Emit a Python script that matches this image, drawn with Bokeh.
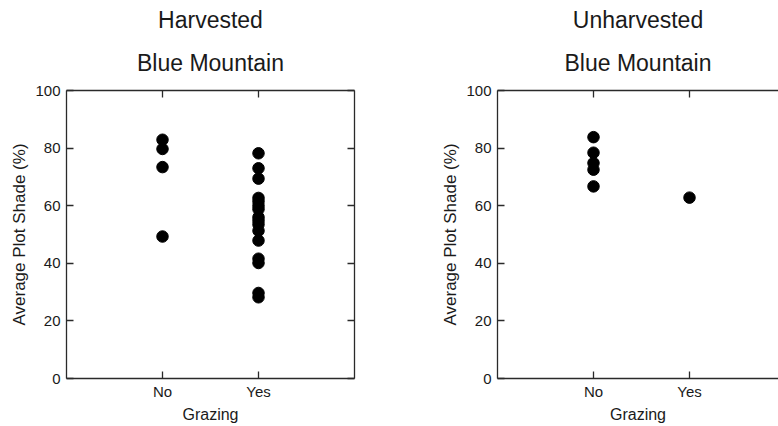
from bokeh.plotting import figure
from bokeh.models import LinearAxis, FixedTicker, Title, Range1d
from bokeh.layouts import row
from bokeh.embed import file_html
from bokeh.resources import INLINE

# ---- data ----
categories = ["No", "Yes"]
y_ticks = [0, 20, 40, 60, 80, 100]
panel_titles = ["Harvested", "Unharvested"]
site = "Blue Mountain"
x_label = "Grazing"
y_label = "Average Plot Shade (%)"

harvested_no = [82.9, 79.7, 73.4, 49.3]
harvested_yes = [78.2, 73.0, 69.4, 62.7, 61.5, 60.0, 58.8, 56.0, 54.8,
                 53.5, 51.3, 47.9, 41.6, 40.1, 29.7, 28.2]
unharvested_no = [83.8, 78.4, 74.8, 72.5, 66.7]
unharvested_yes = [62.8]

FONT = "Liberation Sans"
INK = "#1a1a1a"
LINE = "#2a2a2a"


def style_axis(ax, labels=True):
    ax.major_tick_in = 7
    ax.major_tick_out = 0
    ax.minor_tick_line_color = None
    ax.axis_line_color = LINE
    ax.axis_line_width = 1.3
    ax.major_tick_line_color = LINE
    ax.major_tick_line_width = 1.3
    if labels:
        ax.major_label_text_font = FONT
        ax.major_label_text_font_size = "15px"
        ax.major_label_text_color = INK
        ax.axis_label_text_font = FONT
        ax.axis_label_text_font_size = "16px"
        ax.axis_label_text_font_style = "normal"
        ax.axis_label_text_color = INK
    else:
        ax.major_label_text_font_size = "1px"
        ax.major_label_text_color = None
        ax.major_label_standoff = 0
        ax.axis_label = None


def make_panel(title, groups, min_left, frame_w, x_end, right_axis, min_right):
    p = figure(frame_width=frame_w, frame_height=288,
               x_range=Range1d(0, x_end), y_range=Range1d(0, 100),
               output_backend="svg", toolbar_location=None,
               min_border_left=min_left, min_border_right=min_right,
               min_border_top=90, min_border_bottom=48,
               outline_line_color=None, x_axis_location=None,
               y_axis_location=None)
    p.xgrid.visible = False
    p.ygrid.visible = False
    xs, ys = [], []
    for cat, vals in zip(categories, groups):
        xs += [categories.index(cat) + 1] * len(vals)
        ys += list(vals)
    p.scatter(xs, ys, size=11.5, color="black")

    cat_ticks = [i + 1 for i in range(len(categories))]
    overrides = {i + 1: c for i, c in enumerate(categories)}

    bottom = LinearAxis(ticker=FixedTicker(ticks=cat_ticks),
                        major_label_overrides=overrides, axis_label=x_label)
    style_axis(bottom)
    bottom.major_label_standoff = 4
    bottom.axis_label_standoff = 3
    p.add_layout(bottom, "below")

    left = LinearAxis(ticker=FixedTicker(ticks=y_ticks), axis_label=y_label)
    style_axis(left)
    left.axis_label_text_font_size = "17px"
    left.major_label_standoff = 6
    left.axis_label_standoff = 3
    p.add_layout(left, "left")

    top = LinearAxis(ticker=FixedTicker(ticks=cat_ticks))
    style_axis(top, labels=False)
    p.add_layout(top, "above")

    if right_axis:
        right = LinearAxis(ticker=FixedTicker(ticks=y_ticks))
        style_axis(right, labels=False)
        p.add_layout(right, "right")

    p.add_layout(Title(text=site, align="center", text_font=FONT,
                       text_font_size="23px", text_font_style="normal",
                       text_color=INK, standoff=29), "above")
    p.add_layout(Title(text=title, align="center", text_font=FONT,
                       text_font_size="23px", text_font_style="normal",
                       text_color=INK, standoff=2), "above")
    return p


p1 = make_panel(panel_titles[0], [harvested_no, harvested_yes], 66, 288, 3.0,
                True, 36)
p2 = make_panel(panel_titles[1], [unharvested_no, unharvested_yes], 107, 281,
                281 / 96.0, False, 0)

layout = row(p1, p2)
open("out.html", "w").write(file_html(layout, INLINE))
